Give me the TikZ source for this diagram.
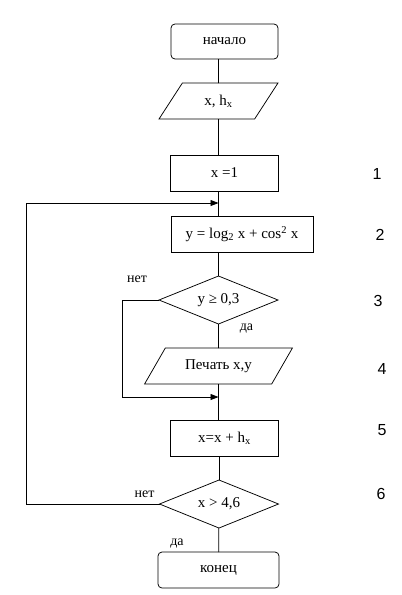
\documentclass[tikz,border=0pt]{standalone}
\usepackage{fontspec}
\setmainfont{Liberation Serif}
\newfontfamily\numfont{Liberation Sans}
\usetikzlibrary{shapes.geometric, arrows.meta, positioning}
\tikzstyle{startstop} = [rectangle, rounded corners=4pt,
minimum width=107pt,
minimum height=35pt,
outer sep=0pt,
text centered,
draw=black]
\tikzstyle{io} = [trapezium, trapezium stretches=true,
minimum height=36pt,
inner ysep=2pt,
outer sep=0pt,
align=center,
draw=black]
\tikzstyle{process} = [rectangle,
draw=black,
align=center,
outer sep=0pt,
minimum width=108pt,
minimum height=36pt]
\tikzstyle{decision} = [diamond, aspect=2.5,
draw=black,
align=center,
inner sep=0pt,
outer sep=0pt,
minimum width=119pt,
minimum height=48pt]
\tikzstyle{num} = [font=\numfont\fontsize{16}{16}\selectfont]
\tikzstyle{lbl} = [font=\fontsize{14}{14}\selectfont]

\begin{document}
\begin{tikzpicture}[line width=0.75pt, font=\fontsize{15}{15}\selectfont,
    >={Triangle[width=6pt,length=8pt]}
    ]
    \fill[white] (0,0) rectangle (402pt,-595pt);
    \useasboundingbox (0,0) rectangle (402pt,-595pt);

    \node (start) [startstop] at (224.5pt,-41.5pt) {начало};

    \node (inp) [io, below=24pt of start, xshift=-6pt, minimum width=119pt,
        trapezium left angle=56, trapezium right angle=124] {x, h\textsubscript{x}};

    \node (x1) [process, below=36pt of inp, xshift=6pt] {x =1};

    \node (ylog) [process, below=25pt of x1, xshift=17.5pt, minimum width=142pt] {y = log\textsubscript{2} x + cos\textsuperscript{2} x};

    \node (d1) [decision, below=24pt of ylog, xshift=-23.5pt] {y ≥ 0,3};

    \node (print) [io, below=24pt of d1, minimum width=148pt,
        trapezium left angle=50, trapezium right angle=130] {Печать x,y};

    \node (xinc) [process, below=36pt of print, xshift=6pt] {x=x + h\textsubscript{x}};

    \node (d2) [decision, below=24pt of xinc, xshift=-5.5pt] {x > 4,6};

    \node (stop) [startstop, below=24pt of d2, xshift=-0.5pt, minimum width=121pt, minimum height=36pt] {конец};

    % numbers of the blocks
    \node (n1) [num] at (377pt,-174pt) {1};
    \node (n2) [num] at (380pt,-235pt) {2};
    \node (n3) [num] at (378pt,-301pt) {3};
    \node (n4) [num] at (382pt,-369pt) {4};
    \node (n5) [num] at (382pt,-430pt) {5};
    \node (n6) [num] at (381pt,-494pt) {6};

    % branch labels
    \node (no1) [lbl] at ([xshift=-22pt, yshift=21pt]d1.west) {нет};
    \node (yes1) [lbl] at ([xshift=28pt, yshift=-5pt]d1.south) {да};
    \node (no2) [lbl] at ([xshift=-15pt, yshift=10pt]d2.west) {нет};
    \node (yes2) [lbl] at ([xshift=-42pt, yshift=-16pt]d2.south) {да};

    % main line
    \draw (start.south -| inp) -- (inp);
    \draw (inp) -- (inp |- x1.north);
    \draw (x1.south -| d1) -- (ylog.north -| d1);
    \draw (ylog.south -| d1) -- (d1);
    \draw (d1) -- (print);
    \draw (print) -- (print |- xinc.north);
    \draw (xinc.south -| d2) -- (d2);
    \draw (d2) -- (stop);

    % loops
    \coordinate (join1) at ([yshift=-13pt]print.south);
    \coordinate (join2) at ([yshift=-12pt]x1.south -| d1);

    \draw[->] (d1.west) -- ++(-37pt,0) |- (join1);
    \draw[->] (d2.west) -- ++(-133pt,0) |- (join2);

\end{tikzpicture}
\end{document}
